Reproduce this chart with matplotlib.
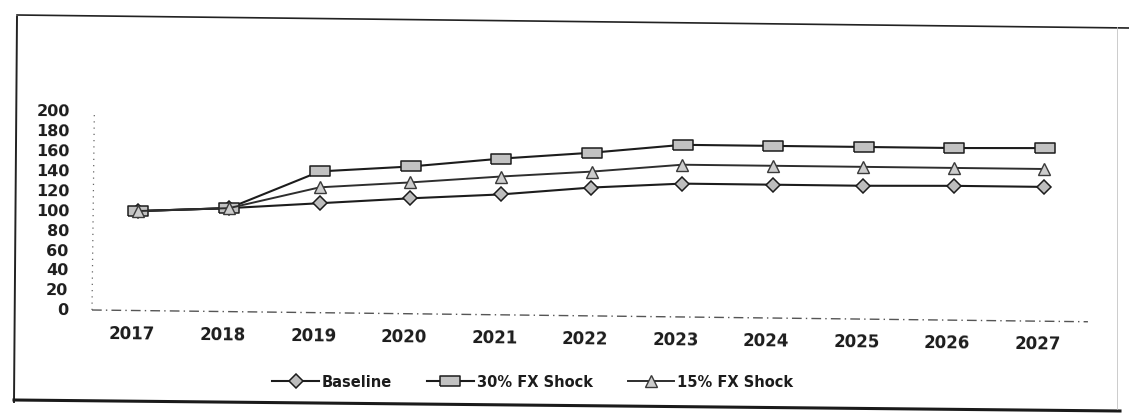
import matplotlib
matplotlib.use("Agg")
import matplotlib.pyplot as plt
from matplotlib.lines import Line2D
from matplotlib.transforms import Affine2D

years = ["2017", "2018", "2019", "2020", "2021", "2022",
         "2023", "2024", "2025", "2026", "2027"]
baseline = [100, 104, 110, 116, 121, 129, 134, 134, 134, 135, 135]
shock_30 = [100, 104, 142, 148, 157, 164, 173, 173, 173, 173, 174]
shock_15 = [100, 104, 126, 132, 139, 145, 153, 153, 153, 153, 153]
y_ticks = [0, 20, 40, 60, 80, 100, 120, 140, 160, 180, 200]

plt.rcParams["font.family"] = ["DejaVu Sans"]

W, H, DPI = 1129, 414, 100
fig = plt.figure(figsize=(W / DPI, H / DPI), dpi=DPI)
ax = fig.add_axes([92 / W, 103 / H, 996 / W, 199 / H])
ax.set_xlim(-0.5, len(years) - 0.5)
ax.set_ylim(0, 200)
ax.set_axis_off()

# the printed page sits slightly tilted: rotate the plot about the axis origin
TILT = -0.676
tilt = Affine2D().rotate_deg_around(92, 103, TILT)
tdata = ax.transData + tilt

ink = "#1c1c1c"
x = list(range(len(years)))
rect = [(-1, -0.5), (1, -0.5), (1, 0.5), (-1, 0.5), (-1, -0.5)]

ax.plot(x, baseline, transform=tdata, clip_on=False, color=ink, lw=1.5,
        marker="D", ms=7, mfc="#bdbdbd", mec=ink, mew=1.1, label="Baseline")
ax.plot(x, shock_30, transform=tdata, clip_on=False, color=ink, lw=1.5,
        marker=rect, ms=15, mfc="#c2c2c2", mec=ink, mew=1.1,
        label="30% FX Shock")
ax.plot(x, shock_15, transform=tdata, clip_on=False, color="#2e2e2e", lw=1.4,
        marker="^", ms=9, mfc="#cccccc", mec="#3a3a3a", mew=1.0,
        label="15% FX Shock")

# axis lines
ax.plot([-0.5, -0.5], [0, 200], transform=tdata, clip_on=False,
        color="#666666", lw=0.9, ls=(0, (1, 4)))
ax.plot([-0.5, len(years) - 0.5], [0, 0], transform=tdata, clip_on=False,
        color="#555555", lw=1.0, ls=(0, (7, 3, 1, 3)))

# tick labels
x_lab = tdata + Affine2D().translate(-5, -22.5)
for i, yr in enumerate(years):
    ax.text(i, 0, yr, transform=x_lab, ha="center", va="center",
            rotation=TILT, rotation_mode="anchor", fontsize=12,
            fontweight="bold", color=ink)
y_lab = tdata + Affine2D().translate(-24, 0)
for v in y_ticks:
    ax.text(-0.5, v, str(v), transform=y_lab, ha="right", va="center",
            rotation=TILT, rotation_mode="anchor", fontsize=11.5,
            fontweight="bold", color=ink)

leg = fig.legend(loc="center", bbox_to_anchor=(0.472, 0.075), ncol=3,
                 frameon=False, fontsize=10.5, handlelength=3.2,
                 columnspacing=2.4, handletextpad=0.2)
for t in leg.get_texts():
    t.set_fontweight("bold")
    t.set_color(ink)

# page frame around the figure
def page_line(x0, y0, x1, y1, **kw):
    fig.add_artist(Line2D([x0 / W, x1 / W], [1 - y0 / H, 1 - y1 / H],
                          transform=fig.transFigure, **kw))

page_line(17, 16, W, 29, color="#222222", lw=1.2)
page_line(17, 18, 14, 403, color="#222222", lw=1.4)
page_line(14, 401, 1120, 412, color="#1a1a1a", lw=2.2)
page_line(1117, 28, 1117, 410, color="#c4c4c4", lw=0.6)

fig.savefig("out.png", dpi=DPI)
